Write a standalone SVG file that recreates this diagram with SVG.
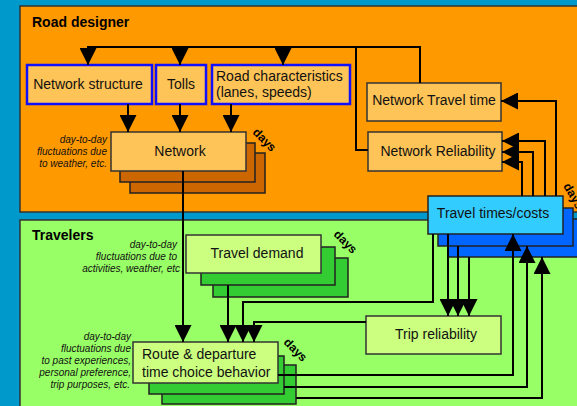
<svg xmlns="http://www.w3.org/2000/svg" width="577" height="406" viewBox="0 0 577 406">
<defs>
<marker id="ah" markerUnits="userSpaceOnUse" markerWidth="17" markerHeight="17" viewBox="0 0 17 17" refX="17" refY="8.5" orient="auto">
<path d="M0,0 L17,8.5 L0,17 z" fill="#000"/>
</marker>
<style>
.panel{stroke:#333;stroke-width:1.5}
.ob{fill:#FFC457;stroke:#333;stroke-width:1.5}
.os{fill:#CC6600;stroke:#222;stroke-width:1.5}
.bb{fill:#FFC457;stroke:#1010FF;stroke-width:2.5}
.gb{fill:#CCFF80;stroke:#333;stroke-width:1.5}
.gs{fill:#33CC33;stroke:#222;stroke-width:1.5}
.tb{fill:#33CCFF;stroke:#222;stroke-width:1.5}
.ts{fill:#0066FF;stroke:#222;stroke-width:1.5}
.t{font-family:"Liberation Sans",Arial,sans-serif;font-size:14px;fill:#111}
.c{text-anchor:middle}
.h{font-family:"Liberation Sans",Arial,sans-serif;font-size:14px;font-weight:bold;fill:#000}
.i{font-family:"Liberation Sans",Arial,sans-serif;font-size:10px;font-style:italic;fill:#111;text-anchor:end}
.d{font-family:"Liberation Sans",Arial,sans-serif;font-size:12px;font-weight:bold;fill:#000}
.ln{fill:none;stroke:#000;stroke-width:2}
.ar{fill:none;stroke:#000;stroke-width:2;marker-end:url(#ah)}
</style>
</defs>
<rect x="0" y="0" width="577" height="406" fill="#0099CC"/>
<g id="road-designer-panel">
<rect class="panel" x="20" y="6" width="570" height="206" fill="#FF9900"/>
<text class="h" x="32" y="27">Road designer</text>
</g>
<g id="travelers-panel">
<rect class="panel" x="20" y="220" width="570" height="200" fill="#99FF66"/>
<text class="h" x="32" y="240">Travelers</text>
</g>

<g id="network-structure"><rect class="bb" x="27" y="65" width="125" height="39"/><text class="t c" x="88" y="89">Network structure</text></g>
<g id="tolls"><rect class="bb" x="156" y="65" width="50" height="39"/><text class="t c" x="181" y="89">Tolls</text></g>
<g id="road-characteristics"><rect class="bb" x="212" y="65" width="138" height="39"/><text class="t" x="216" y="81">Road characteristics</text><text class="t" x="216" y="97">(lanes, speeds)</text></g>

<g id="network">
<rect class="os" x="130" y="153" width="135" height="40"/>
<rect class="os" x="120" y="143" width="135" height="39"/>
<rect class="ob" x="111" y="132" width="135" height="39"/>
<text class="t c" x="180" y="156">Network</text>
<text class="d" x="252" y="133" transform="rotate(45 252 133)">days</text>
<text class="i" x="107" y="143">day-to-day</text>
<text class="i" x="107" y="155">fluctuations due</text>
<text class="i" x="107" y="167">to weather, etc.</text>
</g>

<g id="network-travel-time"><rect class="ob" x="367" y="83" width="134" height="38"/><text class="t c" x="434" y="105">Network Travel time</text></g>
<g id="network-reliability"><rect class="ob" x="368" y="132" width="134" height="39"/><text class="t c" x="438" y="156">Network Reliability</text></g>

<g id="travel-times-costs">
<rect class="ts" x="448" y="219" width="140" height="38"/>
<rect class="ts" x="438" y="208" width="135" height="38"/>
<rect class="tb" x="428" y="196" width="135" height="38"/>
<text class="t c" x="493" y="218">Travel times/costs</text>
<text class="d" x="563" y="186" transform="rotate(60 563 186)">days</text>
</g>

<g id="travel-demand">
<rect class="gs" x="213" y="258" width="135" height="39"/>
<rect class="gs" x="201" y="247" width="134" height="38"/>
<rect class="gb" x="186" y="235" width="135" height="38"/>
<text class="t c" x="257" y="258">Travel demand</text>
<text class="d" x="333" y="235" transform="rotate(45 333 235)">days</text>
<text class="i" x="177" y="248">day-to-day</text>
<text class="i" x="177" y="260">fluctuations due to</text>
<text class="i" x="180" y="272">activities, weather, etc</text>
</g>

<g id="trip-reliability"><rect class="gb" x="366" y="316" width="135" height="38"/><text class="t c" x="436" y="339">Trip reliability</text></g>

<g id="route-departure">
<rect class="gs" x="162" y="365" width="134" height="39"/>
<rect class="gs" x="149" y="356" width="135" height="38"/>
<rect class="gb" x="133" y="342" width="145" height="41"/>
<text class="t" x="142" y="359">Route &amp; departure</text>
<text class="t" x="142" y="377">time choice behavior</text>
<text class="d" x="283" y="343" transform="rotate(45 283 343)">days</text>
<text class="i" x="131" y="340">day-to-day</text>
<text class="i" x="131" y="352">fluctuations due</text>
<text class="i" x="131" y="364">to past experiences,</text>
<text class="i" x="131" y="376">personal preference,</text>
<text class="i" x="130" y="388">trip purposes, etc.</text>
</g>

<g id="connectors">
<polyline class="ln" points="420,83 420,47 87,47"/>
<polyline class="ln" points="368,150 356,150 356,47"/>
<line class="ar" x1="88" y1="47" x2="88" y2="65"/>
<line class="ar" x1="180" y1="47" x2="180" y2="65"/>
<line class="ar" x1="283" y1="47" x2="283" y2="65"/>
<line class="ar" x1="128" y1="104" x2="128" y2="132"/>
<line class="ar" x1="180" y1="104" x2="180" y2="132"/>
<line class="ar" x1="231" y1="104" x2="231" y2="132"/>
<line class="ar" x1="183" y1="171" x2="183" y2="342"/>
<line class="ar" x1="228" y1="285" x2="228" y2="342"/>
<polyline class="ar" points="433,234 433,302 243,302 243,342"/>
<polyline class="ar" points="366,322 254,322 254,342"/>
<line class="ar" x1="448" y1="234" x2="448" y2="316"/>
<line class="ar" x1="458" y1="246" x2="458" y2="316"/>
<line class="ar" x1="469" y1="257" x2="469" y2="316"/>
<polyline class="ar" points="278,375 513,375 513,234"/>
<polyline class="ar" points="284,387 527,387 527,246"/>
<polyline class="ar" points="296,398 542,398 542,257"/>
<polyline class="ar" points="556,196 556,101 501,101"/>
<polyline class="ar" points="545,196 545,141 502,141"/>
<polyline class="ar" points="533,196 533,152 502,152"/>
<polyline class="ar" points="522,196 522,162 502,162"/>
</g>
</svg>
